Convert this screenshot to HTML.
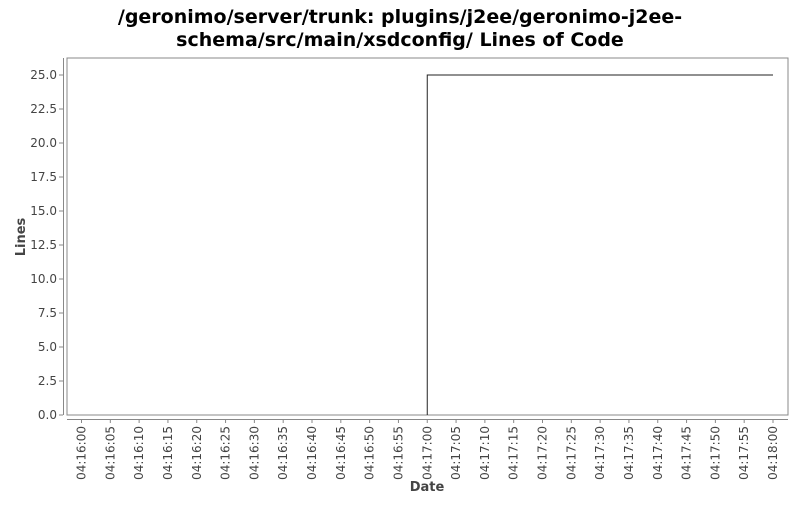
<!DOCTYPE html>
<html><head><meta charset="utf-8"><style>
body{margin:0;background:#fff;font-family:"Liberation Sans",sans-serif}
</style></head><body>
<svg id="chart" width="800" height="500" xmlns="http://www.w3.org/2000/svg">
<rect width="800" height="500" fill="#fff"/>
<text x="400" y="23" text-anchor="middle" font-size="19" font-weight="bold" font-family="DejaVu Sans,sans-serif" fill="#000">/geronimo/server/trunk: plugins/j2ee/geronimo-j2ee-</text>
<text x="400" y="46" text-anchor="middle" font-size="19" font-weight="bold" font-family="DejaVu Sans,sans-serif" fill="#000">schema/src/main/xsdconfig/ Lines of Code</text>
<rect x="67" y="58" width="721" height="357" fill="#fff" stroke="#888" stroke-width="1"/>
<line x1="63.5" y1="58" x2="63.5" y2="415" stroke="#888"/>
<line x1="67" y1="419.5" x2="788" y2="419.5" stroke="#888"/>
<g id="yticks"></g><g id="xticks"></g><g id="series"></g>
<text transform="translate(25,237) rotate(-90)" text-anchor="middle" font-size="13" font-weight="bold" font-family="DejaVu Sans,sans-serif" fill="#444">Lines</text>
<text x="427" y="491" text-anchor="middle" font-size="13" font-weight="bold" font-family="DejaVu Sans,sans-serif" fill="#444">Date</text>
</svg>
<script>
const yTicks=[0,2.5,5,7.5,10,12.5,15,17.5,20,22.5,25];
const xTickSecs=[0,5,10,15,20,25,30,35,40,45,50,55,60,65,70,75,80,85,90,95,100,105,110,115,120];
const seriesSecs=[60,60,120];
const seriesValues=[0,25,25];
const NS="http://www.w3.org/2000/svg";
function ys(v){return 415-(v/25)*340;}
function xs(s){return 81.5+(s/120)*691.5;}
function lab(s){const m=16+Math.floor(s/60),ss=s%60;return "04:"+m+":"+String(ss).padStart(2,"0");}
const yg=document.getElementById("yticks");
yTicks.forEach(v=>{
 const l=document.createElementNS(NS,"line");
 
 
 l.setAttribute("x1",59);l.setAttribute("x2",63);l.setAttribute("y1",ys(v));l.setAttribute("y2",ys(v));l.setAttribute("stroke","#888");yg.appendChild(l);
 const t=document.createElementNS(NS,"text");
 
 
 t.setAttribute("x",57);t.setAttribute("y",ys(v)+4);t.setAttribute("text-anchor","end");t.setAttribute("font-size","12");t.setAttribute("font-family","DejaVu Sans,sans-serif");t.setAttribute("fill","#444");t.textContent=v.toFixed(1);yg.appendChild(t);
});
const xg=document.getElementById("xticks");
xTickSecs.forEach(s=>{
 const x=xs(s);
 const l=document.createElementNS(NS,"line");
 
 
 l.setAttribute("x1",x);l.setAttribute("x2",x);l.setAttribute("y1",419);l.setAttribute("y2",423);l.setAttribute("stroke","#888");xg.appendChild(l);
 const t=document.createElementNS(NS,"text");
 
 
 t.setAttribute("transform","translate("+(x+4)+",426) rotate(-90)");t.setAttribute("text-anchor","end");t.setAttribute("font-size","12");t.setAttribute("font-family","DejaVu Sans,sans-serif");t.setAttribute("fill","#444");t.textContent=lab(s);xg.appendChild(t);
});
const p=document.createElementNS(NS,"polyline");


p.setAttribute("points",seriesSecs.map((s,i)=>xs(s)+","+ys(seriesValues[i])).join(" "));
p.setAttribute("fill","none");p.setAttribute("stroke","#222");p.setAttribute("stroke-width","1");
document.getElementById("series").appendChild(p);
</script>
</body></html>
